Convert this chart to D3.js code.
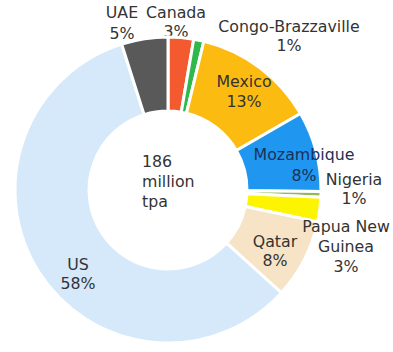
<!DOCTYPE html>
<html>
<head>
<meta charset="utf-8">
<script src="https://cdn.jsdelivr.net/npm/d3@7"></script>
<style>
  html, body { margin: 0; padding: 0; background: #fff; }
  svg { display: block; }
  text { font-family: "DejaVu Sans", Verdana, sans-serif; font-size: 15.8px; fill: #333; }
</style>
</head>
<body>
<svg id="chart" width="393" height="352"></svg>
<script>
// ---- data (million tpa), clockwise from 12 o'clock ----
const categories = ["Canada", "Congo-Brazzaville", "Mexico", "Mozambique", "Nigeria", "Papua New Guinea", "Qatar", "US", "UAE"];
const values     = [5.0, 2.0, 24.0, 15.8, 1.1, 4.8, 15.6, 108.6, 9.1];
const pctLabels  = ["3%", "1%", "13%", "8%", "1%", "3%", "8%", "58%", "5%"];
const centerLines = ["186", "million", "tpa"];

// ---- presentation ----
const colors = ["#f35a2f", "#2fb84c", "#fbbb10", "#1f97f0", "#8fba5c", "#fcf400", "#f7e4c6", "#d5e9fa", "#595959"];
const labelLayout = {
  "Canada":            { x: 176, y: 18, lines: ["Canada"], gap: 19, outside: true },
  "Congo-Brazzaville": { x: 289, y: 32, lines: ["Congo-Brazzaville"], gap: 19, outside: true },
  "Mexico":            { x: 244, y: 87, lines: ["Mexico"], gap: 20 },
  "Mozambique":        { x: 304, y: 160, lines: ["Mozambique"], gap: 21, color: "#1c2f58" },
  "Nigeria":           { x: 354, y: 185, lines: ["Nigeria"], gap: 19, outside: true },
  "Papua New Guinea":  { x: 346, y: 232, lines: ["Papua New", "Guinea"], gap: 20 },
  "Qatar":             { x: 275, y: 247, lines: ["Qatar"], gap: 19 },
  "US":                { x: 78,  y: 270, lines: ["US"], gap: 19 },
  "UAE":               { x: 122, y: 18, lines: ["UAE"], gap: 21, outside: true }
};

const cx = 168, cy = 190, rInner = 79, rOuter = 153;
const svg = d3.select("#chart");

const data = categories.map((c, i) => ({ name: c, value: values[i], pct: pctLabels[i], color: colors[i] }));

const pie = d3.pie().sort(null).value(d => d.value).startAngle(0).endAngle(2 * Math.PI);
const arc = d3.arc().innerRadius(rInner).outerRadius(rOuter);
const arcs = pie(data);

function drawLabel(g, d) {
  const L = labelLayout[d.name];
  const lines = L.lines.concat([d.pct]);
  const t = g.append("text")
    .attr("text-anchor", "middle")
    .style("fill", L.color || "#333");
  lines.forEach((ln, i) => {
    t.append("tspan").attr("x", L.x).attr("y", L.y + i * L.gap).text(ln);
  });
}

// outside labels first (slices overlap them)
const outsideG = svg.append("g");
arcs.forEach(a => { if (labelLayout[a.data.name].outside) drawLabel(outsideG, a.data); });

// slices
svg.append("g")
  .attr("transform", `translate(${cx},${cy})`)
  .selectAll("path")
  .data(arcs)
  .join("path")
  .attr("d", arc)
  .attr("fill", d => d.data.color)
  .attr("stroke", "#fff")
  .attr("stroke-width", 3)
  .attr("stroke-linejoin", "miter");

// inside labels
const insideG = svg.append("g");
arcs.forEach(a => { if (!labelLayout[a.data.name].outside) drawLabel(insideG, a.data); });

// center text
const ct = svg.append("text").attr("text-anchor", "start");
centerLines.forEach((ln, i) => {
  ct.append("tspan").attr("x", 142).attr("y", 167 + i * 20).text(ln);
});
</script>
</body>
</html>
